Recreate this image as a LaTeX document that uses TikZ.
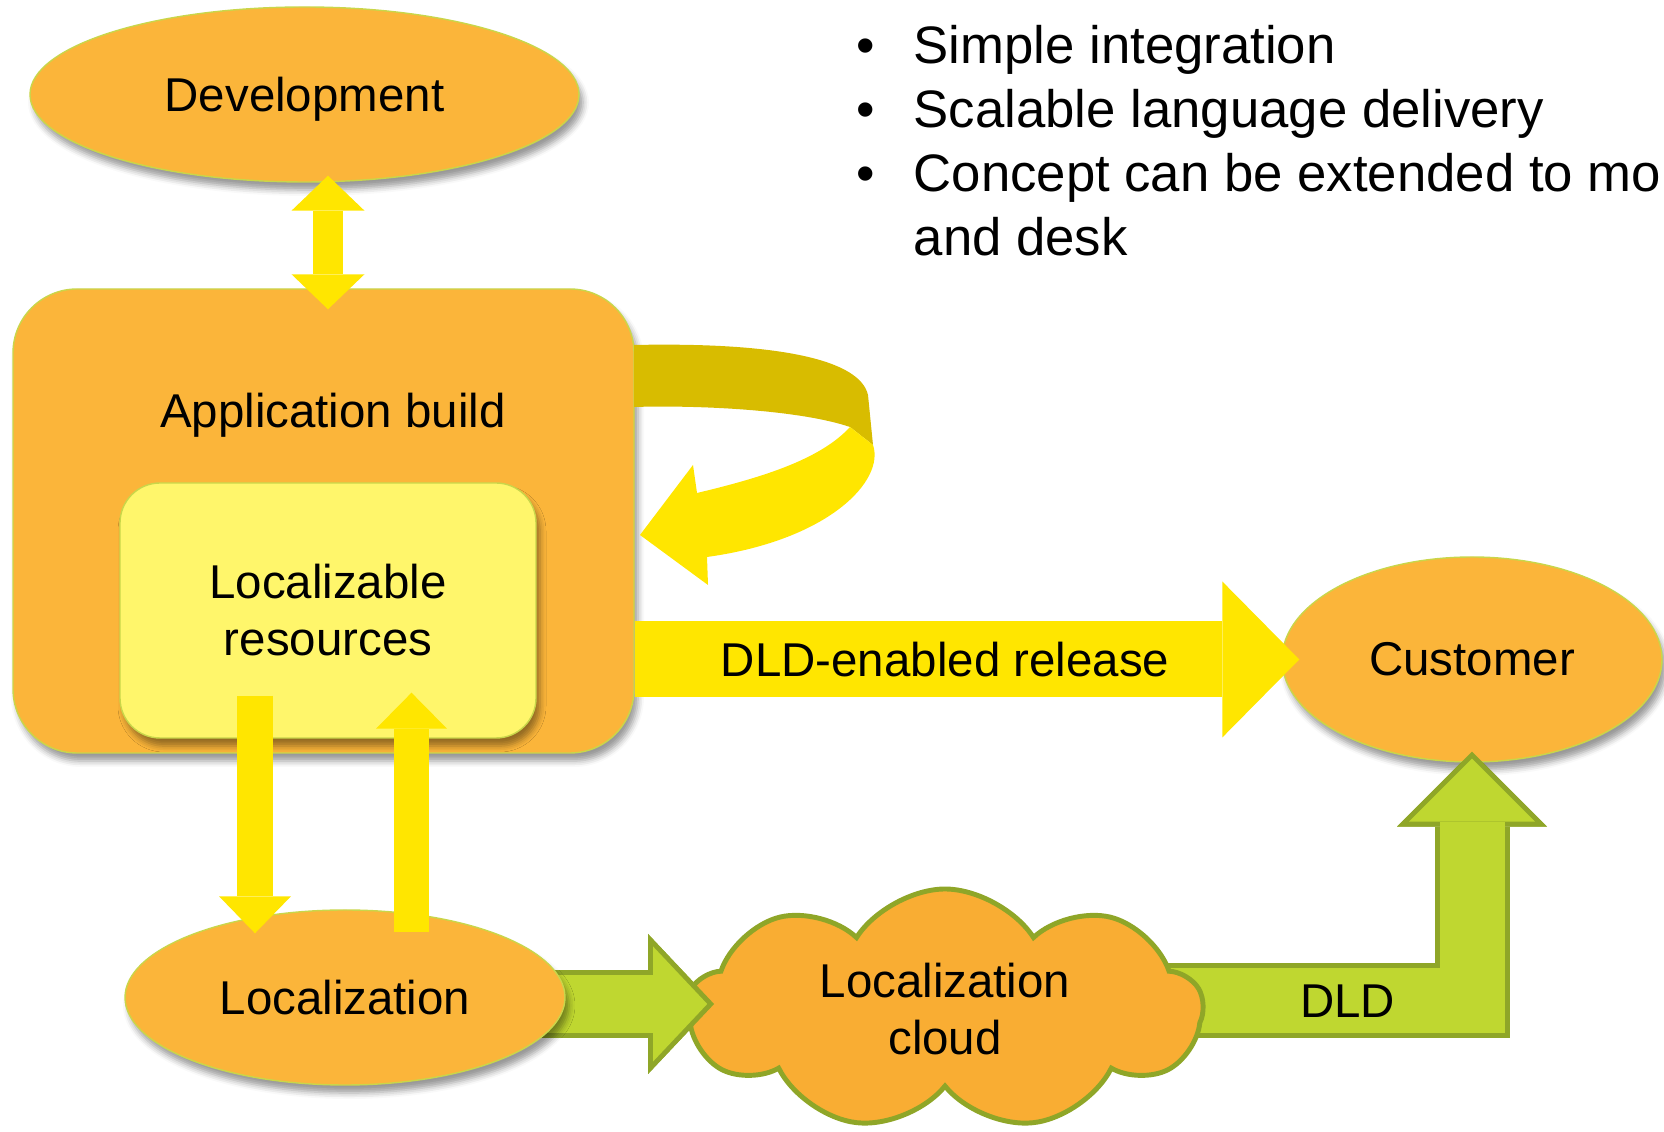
\documentclass[tikz,border=0pt]{standalone}
\usepackage{fontspec}
\setmainfont{Liberation Sans}
\usetikzlibrary{positioning, arrows.meta, shapes.geometric, shapes.symbols, backgrounds, shadows.blur}

\definecolor{nodeorange}{HTML}{FBB53A}
\definecolor{cloudorange}{HTML}{F9AD33}
\definecolor{nodeedge}{HTML}{C9D64A}
\definecolor{resyellow}{HTML}{FFF66B}
\definecolor{arrowyellow}{HTML}{FFE600}
\definecolor{loopdark}{HTML}{D8BC00}
\definecolor{glight}{HTML}{BFD730}
\definecolor{gdark}{HTML}{8FA628}

\newcommand{\nodefont}{\fontsize{27}{32.4}\selectfont}
\newcommand{\notefont}{\fontsize{30}{36.3}\selectfont}

\tikzset{
  softshadow/.style={blur shadow={shadow xshift=0.08cm, shadow yshift=-0.16cm, shadow blur radius=0.12cm, shadow opacity=40}},
  blob/.style={ellipse, draw=nodeedge, line width=0.8pt, fill=nodeorange, font=\nodefont, softshadow},
  panel/.style={rectangle, rounded corners=#1, draw=nodeedge, line width=0.8pt, font=\nodefont, softshadow},
  fatarrow/.style n args={3}{draw=arrowyellow, line width=#1, -{Triangle[length=#2, width=#3, line width=0pt]}},
  fatboth/.style n args={3}{draw=arrowyellow, line width=#1, {Triangle[length=#2, width=#3, line width=0pt]}-{Triangle[length=#2, width=#3, line width=0pt]}},
  gout/.style n args={3}{draw=gdark, line width=#1, -{Triangle[length=#2, width=#3, line width=0pt]}},
  gin/.style n args={3}{draw=glight, line width=#1, -{Triangle[length=#2, width=#3, line width=0pt]}},
  notes/.style={align=left, inner sep=0pt, font=\notefont}
}

\begin{document}
\begin{tikzpicture}[node distance=1cm, thick]
  \useasboundingbox (0,0) rectangle (33.28,22.64);

  % nodes
  \node[blob, text depth=0pt, minimum width=10.98cm, minimum height=3.5cm] (dev) at (6.09,20.75) {Development};
  \node[panel=1.28cm, fill=nodeorange, minimum width=12.42cm, minimum height=9.28cm] (app) at (6.47,12.22) {};
  \node[font=\nodefont] (applbl) at (6.66,14.34) {Application build};
  \node[panel=0.8cm, fill=resyellow, minimum width=8.32cm, minimum height=5.1cm, align=center] (res) at (6.56,10.43) {Localizable\\resources};
  \node[blob, minimum width=8.8cm, minimum height=3.5cm] (loc) at (6.90,2.69) {Localization};
  \node[blob, minimum width=7.6cm, minimum height=4.1cm] (cust) at (29.44,9.45) {Customer};
  \node[cloud, cloud puffs=9, cloud puff arc=115, cloud ignores aspect, minimum width=10.3cm, minimum height=4.82cm,
        draw=gdark, line width=2.8pt, fill=cloudorange, align=center, font=\nodefont] (cloud) at (18.9,2.45) {Localization\\cloud};
  \node[notes, anchor=north west] (bullets) at (17.12,22.14)
    {\makebox[1.14cm][l]{•}Simple integration\\
     \makebox[1.14cm][l]{•}Scalable language delivery\\
     \makebox[1.14cm][l]{•}Concept can be extended to mo\\
     \hspace*{1.14cm}and desk};

  % yellow arrows
  \draw[fatboth={0.6cm}{0.7cm}{1.46cm}, shorten <=-0.14cm, shorten >=-0.42cm] (dev.south -| res) -- (app.north -| res);
  \draw[fatarrow={0.72cm}{0.74cm}{1.44cm}, shorten <=-0.86cm, shorten >=-0.48cm] ([xshift=-1.46cm]res.south) -- ([xshift=-1.46cm]res.south |- loc.north);
  \draw[fatarrow={0.7cm}{0.72cm}{1.42cm}, shorten <=-0.46cm, shorten >=-0.92cm] ([xshift=1.67cm]res.south |- loc.north) -- ([xshift=1.67cm]res.south);
  \draw[fatarrow={1.52cm}{1.54cm}{3.12cm}, shorten >=-0.36cm] (app.east |- cust.west) -- node[pos=0.48, font=\nodefont] (rel) {DLD-enabled release} (cust.west);

  % green arrows: tails run under the nodes, heads lie on top
  \coordinate (g1end) at ([yshift=-0.13cm]loc.center -| cloud.west);
  \begin{scope}[on background layer]
    \draw[gout={1.36cm}{1.32cm}{2.8cm}, shorten >=-0.6cm] ([yshift=-0.13cm]loc.center) -- (g1end);
    \draw[gin={1.16cm}{1.083cm}{2.3cm}, shorten >=-0.463cm] ([yshift=-0.13cm]loc.center) -- (g1end);
    \draw[gout={1.5cm}{1.5cm}{3.0cm}, shorten >=-0.22cm] ([yshift=0.17cm]cloud.center) -| (cust.south);
    \draw[gin={1.3cm}{1.26cm}{2.52cm}, shorten >=-0.08cm] ([yshift=0.17cm]cloud.center) -| node[pos=0.382, font=\nodefont] (dld) {DLD} (cust.south);
  \end{scope}
  \draw[gout={1.36cm}{1.32cm}{2.8cm}, shorten >=-0.6cm] ([xshift=-1.9cm]g1end) -- (g1end);
  \draw[gin={1.16cm}{1.083cm}{2.3cm}, shorten >=-0.463cm] ([xshift=-1.9cm]g1end) -- (g1end);
  \draw[gout={1.5cm}{1.5cm}{3.0cm}, shorten >=-0.22cm] ([yshift=-2.2cm]cust.south) -- (cust.south);
  \draw[gin={1.3cm}{1.26cm}{2.52cm}, shorten >=-0.08cm] ([yshift=-2.2cm]cust.south) -- (cust.south);

  % loop back into the build
  \fill[loopdark] (12.68,15.74) .. controls (15.60,15.80) and (17.20,15.44) .. (17.36,14.74)
    -- (17.46,13.74) -- (17.00,14.10) .. controls (16.00,14.44) and (14.00,14.54) .. (12.68,14.50) -- cycle;
  \fill[arrowyellow] (17.00,14.10) -- (17.46,13.74) .. controls (17.70,13.04) and (16.60,11.84) .. (14.14,11.50)
    -- (14.16,10.94) -- (12.80,11.94) -- (13.86,13.34) -- (13.94,12.78)
    .. controls (15.20,13.08) and (16.40,13.44) .. (17.00,14.10) -- cycle;
\end{tikzpicture}
\end{document}
